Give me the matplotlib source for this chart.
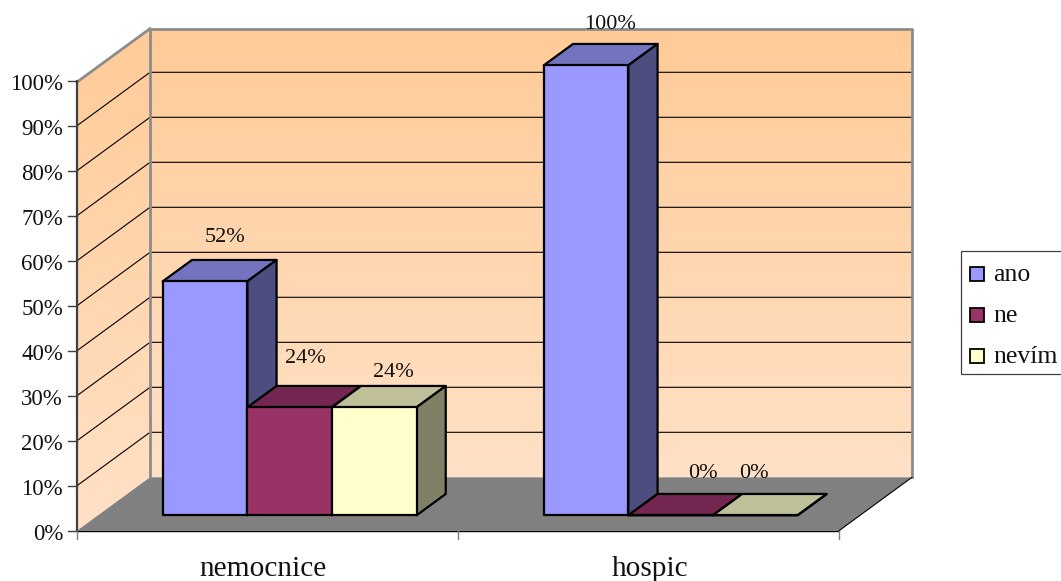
import numpy as np
import matplotlib
matplotlib.use("Agg")
import matplotlib.pyplot as plt
from matplotlib.colors import LinearSegmentedColormap
from matplotlib.patches import Polygon, Rectangle

categories = ["nemocnice", "hospic"]
series_names = ["ano", "ne", "nevím"]
ano = [52, 100]
ne = [24, 0]
nevim = [24, 0]
y_ticks = [0, 10, 20, 30, 40, 50, 60, 70, 80, 90, 100]

# colours per series: front, top, side
front_colors = ["#9999FF", "#993366", "#FFFFCC"]
top_colors = ["#7373BF", "#732650", "#BFBF99"]
side_colors = ["#4D4D80", "#4D1A33", "#808066"]

# label nudges in pixels from the front top centre of each bar
label_nudges = [[(20, -39.6), (15.5, -44.5), (19, -30.6)],
                [(24, -36.3), (32.5, -37.6), (-1.5, -37.6)]]

# oblique projection, all in figure pixels
X0, Y0 = 77.0, 530.7
CAT_W = 381.0
SCALE = 4.5
DX, DY = 73.0, 53.4
BAR_START, BAR_W = 0.17, 0.222
DEPTH_A, DEPTH_B = 0.288, 0.688
WALL_TOP = 99.7


def proj(x, val, depth=0.0):
    return (X0 + x * CAT_W + depth * DX, Y0 - val * SCALE - depth * DY)


plt.rcParams["font.family"] = ["Liberation Serif", "DejaVu Serif"]

fig = plt.figure(figsize=(10.61, 5.81), dpi=100)
ax = fig.add_axes([0, 0, 1, 1])
ax.axis("off")

# walls with a vertical gradient
cmap = LinearSegmentedColormap.from_list("wall", ["#FFCB98", "#FFE1C6"])
grad = np.linspace(0, 1, 256).reshape(-1, 1)

n_cat = len(categories)
back = [proj(0, 0, 1), proj(n_cat, 0, 1), proj(n_cat, WALL_TOP, 1), proj(0, WALL_TOP, 1)]
side = [proj(0, 0, 0), proj(0, 0, 1), proj(0, WALL_TOP, 1), proj(0, WALL_TOP, 0)]
floor = [proj(0, 0, 0), proj(n_cat, 0, 0), proj(n_cat, 0, 1), proj(0, 0, 1)]

for wall, bottom in [(back, back[0][1]), (side, side[0][1])]:
    xs = [p[0] for p in wall]
    ys = [p[1] for p in wall]
    im = ax.imshow(grad, cmap=cmap, aspect="auto", origin="upper", zorder=1,
                   extent=[min(xs), max(xs), bottom, min(ys)])
    im.set_clip_path(Polygon(wall, transform=ax.transData))

ax.add_patch(Polygon(floor, closed=True, fc="#808080", ec="none", zorder=2))

# gridlines run along the side wall and the back wall
for t in y_ticks[1:-1]:
    a, b, c = proj(0, t, 0), proj(0, t, 1), proj(n_cat, t, 1)
    ax.plot([a[0], b[0], c[0]], [a[1], b[1], c[1]], color="black", lw=0.8, zorder=3)

# wall frame
frame = [proj(0, 0, 1), proj(0, WALL_TOP, 1), proj(n_cat, WALL_TOP, 1), proj(n_cat, 0, 1)]
ax.plot(*zip(*frame), color="#8C8C8C", lw=2.0, zorder=3)
ax.plot(*zip(proj(0, WALL_TOP, 0), proj(0, WALL_TOP, 1)), color="#8C8C8C", lw=2.0, zorder=3)
ax.plot(*zip(proj(n_cat, 0, 0), proj(n_cat, 0, 1)), color="black", lw=0.8, zorder=3)

# bars
series = [ano, ne, nevim]
for c in range(n_cat):
    for s, values in enumerate(series):
        v = values[c]
        x1 = c + BAR_START + s * BAR_W
        x2 = x1 + BAR_W
        z = 4 + c + s * 0.1
        style = dict(closed=True, ec="black", lw=1.6, joinstyle="round", zorder=z)
        top = [proj(x1, v, DEPTH_A), proj(x2, v, DEPTH_A), proj(x2, v, DEPTH_B), proj(x1, v, DEPTH_B)]
        right = [proj(x2, 0, DEPTH_A), proj(x2, 0, DEPTH_B), proj(x2, v, DEPTH_B), proj(x2, v, DEPTH_A)]
        face = [proj(x1, 0, DEPTH_A), proj(x2, 0, DEPTH_A), proj(x2, v, DEPTH_A), proj(x1, v, DEPTH_A)]
        ax.add_patch(Polygon(top, fc=top_colors[s], **style))
        ax.add_patch(Polygon(right, fc=side_colors[s], **style))
        ax.add_patch(Polygon(face, fc=front_colors[s], **style))

        # value label
        px, py = proj((x1 + x2) / 2, v, DEPTH_A)
        nx, ny = label_nudges[c][s]
        ax.text(px + nx, py + ny, f"{v}%", ha="center", va="baseline",
                fontsize=16, color="#111111", zorder=10)

# value axis
axis_color = "#404040"
ax.plot(*zip(proj(0, 0), proj(0, 100)), color=axis_color, lw=1.6, zorder=9)
for t in y_ticks:
    x, y = proj(0, t)
    ax.plot([x - 9, x], [y, y], color=axis_color, lw=1.0, zorder=9)
    ax.text(x - 14, y + 9.5, f"{t}%", ha="right", va="baseline", fontsize=16.5,
            color="#111111", zorder=10)

# category axis
ax.plot(*zip(proj(0, 0), proj(n_cat, 0)), color="black", lw=1.0, zorder=9)
for c in range(n_cat + 1):
    x, y = proj(c, 0)
    ax.plot([x, x], [y, y + 8], color="#808080", lw=1.0, zorder=9)
for c, name in enumerate(categories):
    x, _ = proj(c + 0.5, 0)
    ax.text(x + (-4 if c == 0 else 2), 576, name, ha="center", va="baseline",
            fontsize=21.2, color="#111111", zorder=10)

# legend box
ax.add_patch(Rectangle((960.7, 251), 101, 123, fc="white", ec="#404040", lw=0.9, zorder=8))
for i, name in enumerate(series_names):
    y = 267 + i * 41
    ax.add_patch(Rectangle((970, y), 13.5, 13.5, fc=front_colors[i], ec="black", lw=1.3, zorder=9))
    ax.text(993, y + 14, name, ha="left", va="baseline", fontsize=18.5,
            color="#111111", zorder=10)

ax.set_xlim(0, 1061)
ax.set_ylim(581, 0)

fig.savefig("out.png", dpi=100)
